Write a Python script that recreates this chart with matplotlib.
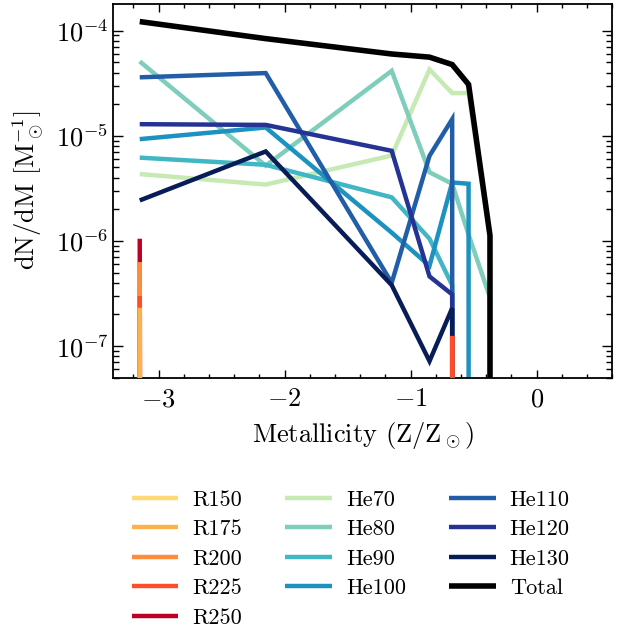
import numpy as np
import matplotlib
matplotlib.use("Agg")
import matplotlib.pyplot as plt
from matplotlib.ticker import MultipleLocator, LogLocator, NullFormatter

plt.rcParams.update({
    "font.family": "serif",
    "font.serif": ["cmr10"],
    "mathtext.fontset": "cm",
    "axes.formatter.use_mathtext": True,
    "font.size": 16,
})

# log10(Z/Zsun) sample points
metallicity = [-3.15, -2.15, -1.15, -0.85, -0.67, -0.54, -0.37, -0.24]

labels = ["R150", "R175", "R200", "R225", "R250",
          "He70", "He80", "He90", "He100", "He110", "He120", "He130", "Total"]

R150 = [2.0e-7, 0, 0, 0, 0, 0, 0, 0]
R175 = [2.32e-7, 0, 0, 0, 0, 0, 0, 0]
R200 = [6.3e-7, 0, 0, 0, 0, 0, 0, 0]
R225 = [3.0e-7, 0, 0, 0, 1.25e-7, 0, 0, 0]
R250 = [1.05e-6, 0, 0, 0, 0, 0, 0, 0]
He70 = [4.33e-6, 3.44e-6, 6.5e-6, 4.27e-5, 2.55e-5, 2.55e-5, 1.05e-6, 0]
He80 = [5.1e-5, 5.2e-6, 4.15e-5, 4.5e-6, 3.5e-6, 1.15e-6, 2.9e-7, 0]
He90 = [6.2e-6, 5.3e-6, 2.6e-6, 1.05e-6, 3.8e-7, 0, 0, 0]
He100 = [9.3e-6, 1.2e-5, 1.2e-6, 5.8e-7, 3.6e-6, 3.5e-6, 0, 0]
He110 = [3.6e-5, 3.95e-5, 4.0e-7, 6.45e-6, 1.44e-5, 0, 0, 0]
He120 = [1.29e-5, 1.27e-5, 7.2e-6, 4.6e-7, 3.1e-7, 0, 0, 0]
He130 = [2.43e-6, 7.1e-6, 3.8e-7, 7.2e-8, 2.3e-7, 0, 0, 0]
Total = [1.22e-4, 8.4e-5, 6.0e-5, 5.6e-5, 4.76e-5, 3.08e-5, 1.13e-6, 0]

series = [R150, R175, R200, R225, R250, He70, He80, He90, He100,
          He110, He120, He130, Total]

colors = ["#fed976", "#feb24c", "#fd8d3c", "#fc4e2a", "#bd0026",
          "#c7e9b4", "#7fcdbb", "#41b6c4", "#1d91c0", "#225ea8",
          "#253494", "#081d58", "#000000"]
zorders = [3.0, 3.4, 3.2, 3.3, 3.1, 2, 2, 2, 2, 2, 2, 2, 2.5]
widths = [3.2] * 12 + [4.0]

fig = plt.figure(figsize=(6.19, 6.36), dpi=100)
ax = fig.add_axes([0.183, 0.406, 0.806, 0.588])
ax.set_yscale("log")

for y, lab, c, z, w in zip(series, labels, colors, zorders, widths):
    ax.plot(metallicity, y, color=c, lw=w, label=lab, zorder=z,
            solid_joinstyle="miter", solid_capstyle="butt")

ax.set_xlim(-3.36, 0.6)
ax.set_ylim(5.0e-8, 1.8e-4)
ax.xaxis.set_major_locator(MultipleLocator(1))
ax.xaxis.set_minor_locator(MultipleLocator(0.2))
ax.yaxis.set_major_locator(LogLocator(base=10, numticks=20))
ax.yaxis.set_minor_locator(LogLocator(base=10, subs=np.arange(2, 10), numticks=20))
ax.yaxis.set_minor_formatter(NullFormatter())

ax.tick_params(which="both", direction="in", top=True, right=True, width=1.0,
               labelsize=19)
ax.tick_params(axis="x", which="major", length=6, pad=7)
ax.tick_params(axis="x", which="minor", length=3)
ax.tick_params(axis="y", which="major", length=7)
ax.tick_params(axis="y", which="minor", length=4.5)
for s in ax.spines.values():
    s.set_linewidth(1.3)

ax.set_xlabel(r"Metallicity (Z/Z$_\odot$)", fontsize=19, labelpad=6)
ax.set_ylabel(r"dN/dM [$\mathrm{M}_\odot^{-1}$]", fontsize=19, labelpad=7)

fig.legend(loc="upper left", bbox_to_anchor=(0.2128, 0.2296), ncol=3,
           frameon=False, fontsize=16, handlelength=2.1, handletextpad=0.63,
           columnspacing=1.94, labelspacing=0.45, borderpad=0, borderaxespad=0)

fig.savefig("out.png", dpi=100)
